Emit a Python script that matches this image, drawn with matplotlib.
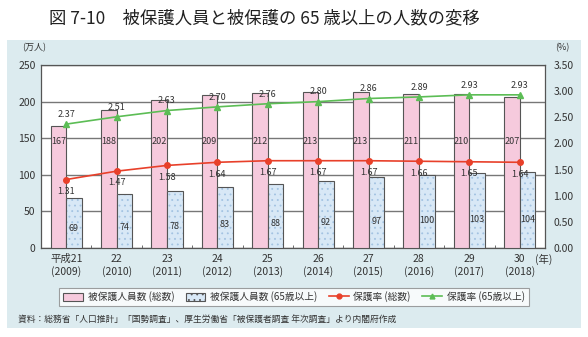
import matplotlib
matplotlib.use("Agg")
import matplotlib.pyplot as plt
from matplotlib.patches import Rectangle, Patch
from matplotlib.lines import Line2D
import numpy as np

plt.rcParams["font.family"] = ["Noto Sans CJK JP", "DejaVu Sans"]
plt.rcParams["hatch.linewidth"] = 0.6

# ── Data ───────────────────────────────────────────────────────────────────────
years_jp = ["平成21", "22", "23", "24", "25", "26", "27", "28", "29", "30"]
years_ad = ["2009", "2010", "2011", "2012", "2013", "2014", "2015", "2016", "2017", "2018"]
total_people = [167, 188, 202, 209, 212, 213, 213, 211, 210, 207]      # 万人
elderly_people = [69, 74, 78, 83, 88, 92, 97, 100, 103, 104]           # 万人
rate_total = [1.31, 1.47, 1.58, 1.64, 1.67, 1.67, 1.67, 1.66, 1.65, 1.64]   # %
rate_elderly = [2.37, 2.51, 2.63, 2.70, 2.76, 2.80, 2.86, 2.89, 2.93, 2.93]  # %

PANEL_BG = "#dcebef"
PINK = "#f6cadd"
BLUE = "#d8e8f6"
DOTS = "#a3c3e2"
EDGE = "#555555"
GRID = "#777777"
RED = "#e8402a"
GREEN = "#5cbd55"
TXT = "#333333"

fig = plt.figure(figsize=(5.88, 3.37), dpi=100, facecolor="white")

# light blue panel behind the chart
fig.patches.append(Rectangle((0.012, 0.027), 0.976, 0.854, transform=fig.transFigure,
                             facecolor=PANEL_BG, edgecolor="none", zorder=-10))

fig.text(0.45, 0.945, "図 7-10　被保護人員と被保護の 65 歳以上の人数の変移",
         ha="center", va="center", fontsize=12.5, color="#222222")

ax = fig.add_axes([0.0697, 0.264, 0.857, 0.543])
ax.set_facecolor("white")
x = np.arange(len(years_jp))
w = 0.31

ax.bar(x - w / 2, total_people, w, color=PINK, edgecolor=EDGE, linewidth=0.8, zorder=3)
ax.bar(x + w / 2, elderly_people, w, color=BLUE, edgecolor=DOTS, linewidth=0,
       hatch="...", zorder=3)
ax.bar(x + w / 2, elderly_people, w, fill=False, edgecolor=EDGE, linewidth=0.8, zorder=3)

ax.set_xlim(-0.5, len(x) - 0.5)
ax.set_ylim(0, 250)
ax.set_yticks(range(0, 251, 50))
ax.yaxis.grid(True, color=GRID, linewidth=1.0, zorder=1)
ax.set_axisbelow(True)
for sp in ax.spines.values():
    sp.set_color(EDGE)
    sp.set_linewidth(0.9)
ax.tick_params(axis="both", length=0, labelsize=7.5, colors=TXT, pad=4)
ax.set_xticks(x)
ax.set_xticklabels([f"{j}\n({a})" for j, a in zip(years_jp, years_ad)], linespacing=1.25)
# small inward marks between the year groups
ax.set_xticks(np.arange(0.5, len(x) - 1, 1.0), minor=True)
ax.tick_params(axis="x", which="minor", direction="in", length=2.5, width=0.6, color=EDGE)
ax.text(x[-1] + 0.3, -15, "(年)", ha="left", va="center", fontsize=7.5, color=TXT)

for xi, v in zip(x, total_people):
    ax.text(xi - w / 2, 146, str(v), ha="center", va="center", fontsize=6.5, color=TXT, zorder=4)
for xi, v in zip(x, elderly_people):
    ax.text(xi + w / 2, v * 0.38, str(v), ha="center", va="center", fontsize=6.5, color=TXT, zorder=4)

ax2 = ax.twinx()
ax2.set_ylim(0, 3.5)
ax2.set_yticks(np.arange(0, 3.51, 0.5))
ax2.set_yticklabels([f"{t:.2f}" for t in np.arange(0, 3.51, 0.5)])
ax2.tick_params(axis="y", length=0, labelsize=7.5, colors=TXT, pad=6)
for sp in ax2.spines.values():
    sp.set_visible(False)

ax2.plot(x, rate_total, color=RED, marker="o", markersize=4, linewidth=1.2, zorder=5)
ax2.plot(x, rate_elderly, color=GREEN, marker="^", markersize=4.5, linewidth=1.2, zorder=5)
for xi, v in zip(x, rate_total):
    ax2.text(xi, v - 0.14, f"{v:.2f}", ha="center", va="top", fontsize=6.5, color=TXT, zorder=6)
for xi, v in zip(x, rate_elderly):
    ax2.text(xi, v + 0.1, f"{v:.2f}", ha="center", va="bottom", fontsize=6.5, color=TXT, zorder=6)

fig.text(0.037, 0.86, "(万人)", ha="left", va="center", fontsize=6.5, color=TXT)
fig.text(0.957, 0.86, "(%)", ha="center", va="center", fontsize=6.5, color=TXT)

handles = [
    Patch(facecolor=PINK, edgecolor=EDGE, linewidth=0.8, label="被保護人員数 (総数)"),
    Patch(facecolor=BLUE, edgecolor=EDGE, linewidth=0.8, hatch="...", label="被保護人員数 (65歳以上)"),
    Line2D([], [], color=RED, marker="o", markersize=3.5, linewidth=1.2, label="保護率 (総数)"),
    Line2D([], [], color=GREEN, marker="^", markersize=3.5, linewidth=1.2, label="保護率 (65歳以上)"),
]
leg = fig.legend(handles=handles, loc="center", bbox_to_anchor=(0.5, 0.119), ncol=4,
                 fontsize=7, frameon=True, fancybox=False, edgecolor="#888888",
                 handlelength=2.0, handleheight=1.0, columnspacing=1.2, handletextpad=0.5,
                 borderpad=0.4)
leg.get_frame().set_linewidth(0.8)
for t in leg.get_texts():
    t.set_color(TXT)

fig.text(0.03, 0.053, "資料：総務省「人口推計」「国勢調査」、厚生労働省「被保護者調査 年次調査」より内閣府作成",
         ha="left", va="center", fontsize=6.3, color=TXT)

fig.savefig("out.png", dpi=100, facecolor="white")
